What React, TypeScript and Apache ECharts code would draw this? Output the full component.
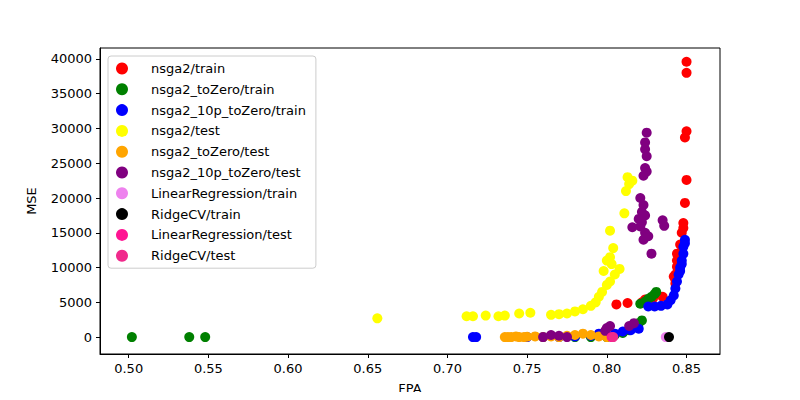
import React, { useEffect, useRef } from "react";
import * as echarts from "echarts";

const xTicks = [0.5, 0.55, 0.6, 0.65, 0.7, 0.75, 0.8, 0.85];
const yTicks = [0, 5000, 10000, 15000, 20000, 25000, 30000, 35000, 40000];

const nsga2Train = [[0.850,39600],[0.850,38000],[0.850,29600],[0.849,28700],[0.850,22600],[0.849,19300],[0.848,16400],[0.848,15700],[0.847,15000],[0.846,13300],[0.845,11700],[0.844,11000],[0.844,10100],[0.843,9000],[0.843,8300],[0.843,7700],[0.806,4700],[0.813,4900],[0.822,5000],[0.824,5400],[0.829,5600],[0.835,5800],[0.842,8700],[0.844,12000]];
const toZeroTrain = [[0.502,0],[0.538,0],[0.548,0],[0.821,4800],[0.824,5100],[0.826,5500],[0.828,5800],[0.830,6200],[0.831,6500],[0.78,0],[0.79,0],[0.800,0],[0.805,300],[0.810,600],[0.814,1000],[0.818,1500],[0.820,2000],[0.822,2400]];
const tenPTrain = [[0.716,0],[0.718,0],[0.75,0],[0.76,0],[0.77,0],[0.78,100],[0.79,200],[0.795,500],[0.80,300],[0.805,500],[0.81,800],[0.815,1000],[0.82,1200],[0.826,4400],[0.830,4400],[0.834,4500],[0.838,4700],[0.840,5300],[0.842,6000],[0.843,7000],[0.844,8000],[0.845,9000],[0.846,10000],[0.847,11000],[0.848,12000],[0.848,13000],[0.849,14000],[0.849,13500],[0.847,10500],[0.846,9500]];
const nsga2Test = [[0.656,2700],[0.712,3000],[0.716,3000],[0.724,3100],[0.732,3000],[0.736,3100],[0.745,3400],[0.752,3500],[0.765,3200],[0.770,3300],[0.775,3400],[0.780,3700],[0.785,4000],[0.790,4500],[0.793,5000],[0.795,5800],[0.797,6500],[0.800,7500],[0.802,8000],[0.798,9500],[0.805,9000],[0.803,10500],[0.800,11000],[0.802,11500],[0.804,12800],[0.802,15300],[0.811,17800],[0.812,21000],[0.814,22000],[0.813,23000],[0.816,22500],[0.808,9800]];
const toZeroTest = [[0.736,0],[0.738,0],[0.740,0],[0.743,100],[0.745,0],[0.748,0],[0.750,50],[0.755,100],[0.760,0],[0.765,100],[0.770,0],[0.775,200],[0.780,300],[0.785,500],[0.790,300],[0.795,100],[0.800,0]];
const tenPTest = [[0.825,29400],[0.824,28000],[0.824,27000],[0.825,26000],[0.824,24300],[0.823,23200],[0.825,23800],[0.821,20000],[0.823,19000],[0.822,18000],[0.824,17500],[0.820,17000],[0.822,16500],[0.821,15900],[0.816,15800],[0.824,15000],[0.835,16800],[0.836,16000],[0.828,12000],[0.823,14000],[0.826,14500],[0.760,0],[0.765,300],[0.770,200],[0.775,0],[0.799,900],[0.800,1300],[0.802,1600],[0.814,1600],[0.817,2000]];
const lrTrain = [[0.837,0]];
const ridgeTrain = [[0.839,0]];
const lrTest = [[0.803,0]];
const ridgeTest = [[0.804,0]];

const seriesDefs: [string, number[][], string][] = [
  ["nsga2/train", nsga2Train, "#ff0000"],
  ["nsga2_toZero/train", toZeroTrain, "#008000"],
  ["nsga2_10p_toZero/train", tenPTrain, "#0000ff"],
  ["nsga2/test", nsga2Test, "#ffff00"],
  ["nsga2_toZero/test", toZeroTest, "#ffa500"],
  ["nsga2_10p_toZero/test", tenPTest, "#800080"],
  ["LinearRegression/train", lrTrain, "#ee82ee"],
  ["RidgeCV/train", ridgeTrain, "#000000"],
  ["LinearRegression/test", lrTest, "#ff1493"],
  ["RidgeCV/test", ridgeTest, "#f02a8c"],
];

const App = () => {
  const chartRef = useRef<HTMLDivElement>(null);

  useEffect(() => {
    const myChart = echarts.init(chartRef.current!, undefined, { renderer: "svg" });
    const font = "DejaVu Sans";
    myChart.setOption({
      animation: false,
      textStyle: { fontFamily: font },
      grid: { left: 100, right: 80, top: 48, bottom: 44, show: true, borderColor: "#000", borderWidth: 1 },
      legend: {
        orient: "vertical",
        left: 108,
        top: 56,
        padding: [6, 10, 6, 8],
        itemGap: 7.8,
        itemWidth: 12,
        itemHeight: 12,
        icon: "circle",
        borderColor: "#ccc",
        borderWidth: 1,
        borderRadius: 3,
        backgroundColor: "rgba(255,255,255,0.8)",
        textStyle: { fontSize: 13, color: "#000", fontFamily: font, padding: [0, 0, 0, 18] },
        data: seriesDefs.map((s) => s[0]),
      },
      xAxis: {
        type: "value",
        min: 0.482,
        max: 0.871,
        name: "FPA",
        nameLocation: "middle",
        nameGap: 28,
        nameTextStyle: { fontSize: 13, color: "#000" },
        splitLine: { show: false },
        axisLine: { onZero: false, lineStyle: { color: "#000" } },
        axisTick: { show: true, length: 4, lineStyle: { color: "#000" }, customValues: xTicks },
        axisLabel: { fontSize: 13, color: "#000", customValues: xTicks, formatter: (v: number) => v.toFixed(2) },
      },
      yAxis: {
        type: "value",
        min: -2429,
        max: 41571,
        name: "MSE",
        nameLocation: "middle",
        nameGap: 62,
        nameTextStyle: { fontSize: 13, color: "#000" },
        splitLine: { show: false },
        axisLine: { show: true, onZero: false, lineStyle: { color: "#000" } },
        axisTick: { show: true, length: 4, lineStyle: { color: "#000" }, customValues: yTicks },
        axisLabel: { fontSize: 13, color: "#000", customValues: yTicks, formatter: (v: number) => String(Math.round(v)) },
      },
      series: seriesDefs.map(([name, data, color]) => ({
        name,
        type: "scatter",
        data,
        symbolSize: 10,
        itemStyle: { color, opacity: 1 },
      })),
    });
    return () => {
      myChart.dispose();
    };
  }, []);

  return <div ref={chartRef} style={{ width: 800, height: 400, margin: -8 }}></div>;
};
export default App;
